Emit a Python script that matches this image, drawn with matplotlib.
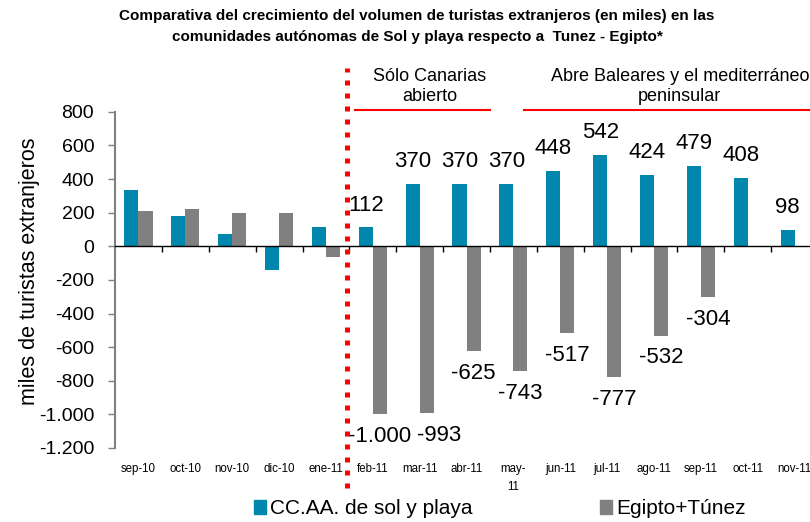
import matplotlib
matplotlib.use("Agg")
import matplotlib.pyplot as plt
import matplotlib.transforms as mtransforms
from matplotlib.patches import Patch
import numpy as np

plt.rcParams["font.family"] = ["Liberation Sans", "DejaVu Sans"]

months = ["sep-10", "oct-10", "nov-10", "dic-10", "ene-11", "feb-11", "mar-11",
          "abr-11", "may-\n11", "jun-11", "jul-11", "ago-11", "sep-11",
          "oct-11", "nov-11"]
sol_playa = [335, 182, 76, -140, 113, 112, 370, 370, 370, 448, 542, 424,
             479, 408, 98]
egipto_tunez = [212, 223, 200, 198, -63, -1000, -993, -625, -743, -517,
                -777, -532, -304, np.nan, np.nan]
first_labelled = 5  # labels only from feb-11 on

TEAL = "#0087ab"
GRAY = "#808080"
RED = "#ff0000"


def es(v):
    return f"{int(v):,}".replace(",", ".")


fig = plt.figure(figsize=(8.1, 5.22), dpi=100)
ax = fig.add_axes([0.142, 0.1418, 0.868, 0.644])

x = np.arange(len(months))
w = 0.3
ax.bar(x - w / 2, sol_playa, w, color=TEAL, zorder=2)
ax.bar(x + w / 2, egipto_tunez, w, color=GRAY, zorder=2)

ax.set_xlim(-0.5, len(months) - 0.5)
ax.set_ylim(-1200, 800)
ax.set_yticks(np.arange(-1200, 801, 200))
ax.set_yticklabels([es(v) for v in np.arange(-1200, 801, 200)], fontsize=14)
ax.tick_params(axis="y", direction="out", length=5, width=1, color=GRAY,
               pad=10)

for s in ("top", "right"):
    ax.spines[s].set_visible(False)
ax.spines["left"].set_color(GRAY)
ax.spines["left"].set_linewidth(1.5)
ax.spines["bottom"].set_position(("data", 0))
ax.spines["bottom"].set_color("black")
ax.spines["bottom"].set_linewidth(1)
ax.set_xticks(x[1:] - 0.5)
ax.set_xticklabels([])
ax.tick_params(axis="x", direction="out", length=4, width=1)

tr = mtransforms.blended_transform_factory(ax.transData, ax.transAxes)
for xi, lab in zip(x, months):
    ax.text(xi, -0.045, lab, transform=tr, ha="center", va="top",
            fontsize=8.3, linespacing=1.6)

fig.text(0.037, 1 - 271 / 522, "miles de turistas extranjeros",
         rotation=90, ha="center", va="center", fontsize=15.5)

for xi, v in zip(x[first_labelled:], sol_playa[first_labelled:]):
    ax.annotate(es(v), (xi - w / 2, v), xytext=(0, 16),
                textcoords="offset points", ha="center", va="center",
                fontsize=16)
for xi, v in zip(x[first_labelled:], egipto_tunez[first_labelled:]):
    if np.isnan(v):
        continue
    dx = 9 if xi == 6 else 0  # nudged in the original to clear -1.000
    ax.annotate(es(v), (xi + w / 2, v), xytext=(dx, -16),
                textcoords="offset points", ha="center", va="center",
                fontsize=16)

# red dotted separator and period annotations
ax.plot([4.45, 4.45], [-0.12, 1.13], transform=tr, clip_on=False,
        color=RED, lw=3.6, dashes=(1, 1.6), dash_capstyle="butt", zorder=5)
ax.plot([4.62, 7.5], [1.005, 1.005], transform=tr, clip_on=False,
        color=RED, lw=1.5)
ax.plot([8.23, 14.6], [1.005, 1.005], transform=tr, clip_on=False,
        color=RED, lw=1.5)
ax.text(6.22, 1.075, "Sólo Canarias\nabierto", transform=tr, ha="center",
        va="center", fontsize=13, linespacing=1.25)
ax.text(11.55, 1.075, "Abre Baleares y el mediterráneo\npeninsular",
        transform=tr, ha="center", va="center", fontsize=13,
        linespacing=1.25)

fig.text(0.515, 0.982,
         "Comparativa del crecimiento del volumen de turistas extranjeros (en miles) en las\n"
         "comunidades autónomas de Sol y playa respecto a  Tunez - Egipto*",
         ha="center", va="top", fontsize=11, fontweight="bold",
         family=["Liberation Sans Narrow", "Liberation Sans"],
         linespacing=1.6)

handles = [Patch(color=TEAL), Patch(color=GRAY)]
fig.legend(handles, ["CC.AA. de sol y playa", "Egipto+Túnez"],
           loc="center", bbox_to_anchor=(0.617, 0.025), ncol=2,
           frameon=False, fontsize=15, handlelength=0.6, handleheight=0.6,
           handletextpad=0.2, columnspacing=6.1)

fig.savefig("out.png", dpi=100)
